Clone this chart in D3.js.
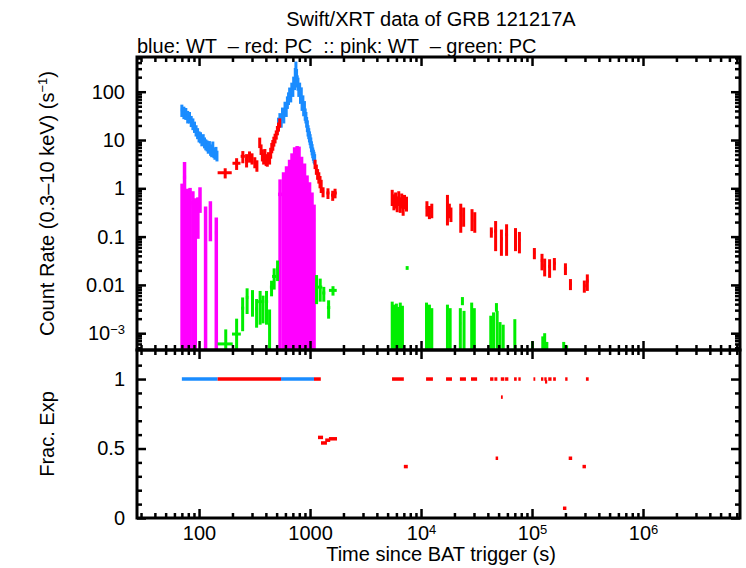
<!DOCTYPE html>
<html>
<head>
<meta charset="utf-8">
<script src="https://cdn.jsdelivr.net/npm/d3@7/dist/d3.min.js"></script>
<style>
  body { margin: 0; background: #fff; }
  svg { display: block; font-family: "Liberation Sans", Arial, Helvetica, sans-serif; }
</style>
</head>
<body>
<svg id="chart" width="746" height="568"></svg>
<script>
'use strict';

// rows: [time (s), half bin width (s), count rate (s^-1), rate error]
var wtRate = [
	[70, 1.5, 42, 12], [73, 1.5, 38, 11], [76, 1.5, 36, 10], [79, 1.5, 31, 9], [82, 1.5, 30, 8],
	[85, 1.5, 25, 6.5], [88, 1.5, 22, 6], [91, 1.5, 19, 5], [94, 1.5, 16, 4.2], [97, 1.5, 14, 3.6],
	[100, 1.5, 12, 3.1], [103, 1.5, 11.5, 3], [106, 1.5, 10, 2.6], [109, 1.5, 10.5, 2.7], [112, 1.5, 9, 2.3],
	[115, 1.5, 8.2, 2.1], [118, 1.5, 7.8, 2], [121, 1.5, 7.0, 1.8], [124, 1.5, 7.6, 1.9], [127, 1.5, 6.4, 1.7],
	[130, 1.5, 6.0, 1.6], [133, 1.5, 7.4, 1.9], [136, 1.5, 5.6, 1.4], [139, 1.5, 5.2, 1.3], [142, 1.5, 5.8, 1.4],
	[145, 1.5, 4.8, 1.2],
	[520, 8, 22, 7], [535, 8, 28, 8], [550, 8, 26, 8], [565, 8, 36, 11], [580, 8, 32, 10],
	[595, 8, 48, 14], [610, 8, 42, 12], [625, 8, 62, 18], [640, 8, 75, 22], [655, 8, 95, 27],
	[670, 8, 85, 25], [685, 8, 120, 34], [700, 8, 110, 32], [712, 6, 160, 45], [724, 6, 150, 42],
	[736, 6, 240, 70], [746, 5, 330, 90], [756, 5, 230, 65], [766, 5, 170, 48], [778, 7, 150, 45],
	[792, 7, 110, 32], [806, 7, 120, 34], [820, 7, 80, 24], [834, 7, 95, 28], [848, 7, 58, 18],
	[862, 7, 65, 19], [876, 7, 45, 14], [890, 7, 50, 14], [904, 7, 35, 10], [918, 7, 30, 8],
	[932, 7, 24, 6], [946, 7, 20, 5.5], [960, 7, 16, 4.2], [974, 7, 14, 3.6], [988, 7, 12, 3.1],
	[1002, 7, 10.5, 2.7], [1016, 7, 9, 2.3], [1030, 7, 7.5, 1.9], [1044, 7, 6.5, 1.7], [1058, 7, 5.6, 1.4],
	[1072, 7, 5.0, 1.3], [1086, 7, 4.5, 1.2], [1100, 7, 4.1, 1.0]
];

var pcRate = [
	[172, 25, 2.1, 0.5], [218, 18, 3.3, 0.9], [248, 11, 4.6, 1.3], [268, 8, 3.9, 1.2], [285, 7, 4.6, 1.2],
	[300, 7, 4.2, 1.1], [318, 8, 3.5, 0.9], [332, 7, 3.0, 0.8], [352, 4, 9.0, 2.2], [362, 4, 6.5, 1.6],
	[372, 4, 5.0, 1.4], [382, 4, 4.2, 1.1], [392, 4, 5.2, 1.3], [402, 4, 4.0, 1.1], [412, 4, 3.8, 1.0],
	[422, 4, 4.4, 1.2], [432, 4, 4.2, 1.1], [442, 4, 5.5, 1.4], [452, 4, 7.0, 1.7], [462, 4, 8.0, 2.0],
	[472, 5, 9.5, 2.2], [484, 5, 11, 2.5], [496, 5, 13, 2.8], [508, 5, 16, 3.5], [520, 5, 19, 4],
	[533, 5, 23, 5],
	[1110, 15, 3.2, 0.7], [1140, 15, 2.5, 0.6], [1170, 15, 2.0, 0.5], [1200, 15, 1.7, 0.45], [1230, 15, 1.4, 0.4],
	[1260, 15, 1.15, 0.35], [1310, 30, 0.85, 0.2], [1450, 45, 0.8, 0.2], [1600, 55, 0.72, 0.17], [1680, 60, 0.8, 0.18],
	[5500, 100, 0.68, 0.25], [5700, 100, 0.55, 0.2], [5900, 100, 0.6, 0.22], [6100, 100, 0.5, 0.18], [6300, 100, 0.65, 0.22],
	[6500, 100, 0.48, 0.17], [6700, 100, 0.58, 0.2], [6900, 100, 0.42, 0.15], [7100, 100, 0.55, 0.18], [7400, 150, 0.5, 0.17],
	[11300, 250, 0.4, 0.14], [11900, 250, 0.33, 0.1], [12500, 300, 0.36, 0.12],
	[17300, 350, 0.45, 0.28], [18000, 300, 0.36, 0.12], [18600, 300, 0.3, 0.1],
	[22800, 400, 0.3, 0.18], [24200, 400, 0.28, 0.12],
	[28800, 500, 0.25, 0.12], [30500, 600, 0.22, 0.1],
	[43000, 1200, 0.125, 0.03], [47000, 1400, 0.13, 0.08], [53000, 1500, 0.09, 0.05], [59000, 1800, 0.11, 0.07],
	[71000, 2000, 0.1, 0.05], [77000, 2000, 0.085, 0.04],
	[105000, 2000, 0.046, 0.012], [123000, 3000, 0.032, 0.012], [130000, 3000, 0.025, 0.01], [144000, 4000, 0.024, 0.01],
	[159000, 4500, 0.028, 0.008],
	[200000, 6000, 0.022, 0.006], [222000, 6000, 0.0105, 0.0027], [296000, 8000, 0.0096, 0.0027], [315000, 9000, 0.012, 0.0045]
];

// pink: WT, green: PC
var wtPink = [
	[70.3, 0.6, 0.6, 0.65], [74, 2.4, 1.7, 1.8], [78.7, 1.2, 0.48, 0.5], [83, 3, 0.5, 0.52], [88, 2, 0.42, 0.45],
	[92.5, 2.5, 0.3, 0.32], [97.6, 2.3, 0.37, 0.28], [102, 2, 0.68, 0.37], [114.5, 3.5, 0.2, 0.22], [126.5, 3.5, 0.31, 0.23],
	[143, 4, 0.12, 0.13],
	[537, 22, 0.75, 0.78], [577, 18, 1.05, 1.1], [614, 20, 1.4, 1.45], [654, 20, 1.9, 2.0], [688, 15, 2.6, 2.7],
	[726, 23, 3.5, 3.6], [765, 15, 3.7, 3.8], [796, 17, 3.6, 3.7], [839, 26, 2.2, 2.3], [892, 28, 1.6, 1.65],
	[940, 20, 0.9, 0.95], [990, 31, 0.65, 0.68], [1042, 22, 0.4, 0.42], [1087, 23, 0.22, 0.24]
];

var pcGreen = [
	[174, 27, 0.0006, 0.0006], [218, 20, 0.00096, 0.00104], [247, 8, 0.0033, 0.0022], [271, 7, 0.0055, 0.003],
	[303, 9, 0.005, 0.0028], [330, 10, 0.0032, 0.0019], [355, 14, 0.0045, 0.003], [377, 8, 0.0038, 0.0022],
	[405, 14, 0.0045, 0.003], [432, 12, 0.0015, 0.0016], [450, 15, 0.009, 0.0032], [475, 20, 0.015, 0.007],
	[510, 15, 0.022, 0.01],
	[1145, 35, 0.01, 0.006], [1235, 55, 0.009, 0.0045], [1330, 40, 0.0068, 0.0023], [1470, 50, 0.0034, 0.0014],
	[1610, 130, 0.0077, 0.0017],
	[7500, 60, 0.0225, 0.002],
	[5500, 100, 0.0022, 0.0023], [5750, 100, 0.0019, 0.002], [6000, 100, 0.002, 0.0021], [6250, 100, 0.0017, 0.0018],
	[6500, 100, 0.0021, 0.0022], [6800, 120, 0.0018, 0.0019],
	[11200, 250, 0.0021, 0.0022], [11900, 250, 0.0019, 0.002], [12500, 250, 0.0016, 0.0017],
	[17300, 300, 0.0019, 0.002], [18300, 300, 0.0016, 0.0017],
	[22600, 400, 0.0016, 0.0017], [23600, 300, 0.0047, 0.0009], [24400, 400, 0.0014, 0.0015],
	[28600, 400, 0.0021, 0.0022], [30200, 400, 0.0016, 0.0017],
	[42500, 600, 0.0011, 0.0012], [45000, 600, 0.0013, 0.0014], [47800, 500, 0.0035, 0.0007], [48500, 500, 0.0014, 0.0015],
	[51500, 800, 0.0008, 0.0009], [55000, 800, 0.0007, 0.0008], [70000, 1000, 0.00095, 0.001],
	[101000, 1500, 0.00034, 0.00034], [125000, 1500, 0.00043, 0.00043], [130000, 1500, 0.0005, 0.0005],
	[136000, 2000, 0.00033, 0.00033], [193000, 3000, 0.00033, 0.00033], [205000, 3000, 0.00028, 0.00028]
];

// fractional exposure: [start (s), end (s), fraction]
var fracWt = [[70, 147, 1], [548, 1085, 1]];
var fracPc = [
	[147, 548, 1], [1085, 1250, 1],
	[1180, 1310, 0.58], [1255, 1420, 0.54], [1370, 1520, 0.56], [1480, 1750, 0.57],
	[5480, 7000, 1], [7000, 7600, 0.37], [11100, 12800, 1], [16800, 19000, 1], [22400, 25400, 1], [28200, 32000, 1],
	[41900, 44900, 1], [45800, 48700, 1], [47000, 49500, 0.43], [52300, 56300, 1], [52500, 54500, 0.87],
	[57200, 61200, 1], [68900, 72800, 1], [75300, 79100, 1],
	[103000, 107000, 1], [120500, 126500, 1], [129000, 135500, 1], [131000, 137000, 0.98], [140000, 150000, 1],
	[155000, 164000, 1], [190000, 204000, 0.07], [199000, 209000, 1], [214000, 230000, 0.43],
	[285000, 306000, 0.37], [306000, 324000, 1]
];

var timeTicks = [100, 1000, 1e4, 1e5, 1e6];
var timeLabels = ['100', '1000', '10^4', '10^5', '10^6'];
var rateTicks = [100, 10, 1, 0.1, 0.01, 0.001];
var rateLabels = ['100', '10', '1', '0.1', '0.01', '10^\u22123'];
var fracTicks = [0, 0.5, 1];
var fracLabels = ['0', '0.5', '1'];

var BLUE = '#1a8cff', RED = '#ff0000', PINK = '#ff00ff', GREEN = '#00ee00';

var xLeft = 137, xRight = 740, yTop = 57, yMid = 350, yBottom = 518;

var x = d3.scaleLog().domain([27.6, 7.48e6]).range([xLeft, xRight]);
var yRate = d3.scaleLog().domain([4.49e-4, 523]).range([yMid, yTop]);
var yFrac = d3.scaleLinear().domain([0, 1.209]).range([yBottom, yMid]);

var svg = d3.select('#chart');

function logMinor(dom) {
	var out = [];
	for (var p = Math.floor(Math.log10(dom[0])); p <= Math.ceil(Math.log10(dom[1])); p++) {
		for (var m = 2; m <= 9; m++) {
			var v = m * Math.pow(10, p);
			if (v > dom[0] && v < dom[1]) out.push(v);
		}
	}
	return out;
}

function setLabel(sel, labels) {
	sel.selectAll('.tick text').each(function (d, i) {
		var parts = labels[i].split('^');
		var t = d3.select(this).text(parts[0]);
		if (parts[1]) t.append('tspan').attr('font-size', 13).attr('dy', '-0.5em').text(parts[1]);
	});
}

// ticks on one side; size > 0 points into the panel
function tickSide(axisFn, scale, vals, size, transform, labels, pad) {
	var ax = axisFn(scale).tickValues(vals).tickSize(-size).tickSizeOuter(0).tickPadding(pad || 0);
	if (!labels) ax.tickFormat('');
	var g = svg.append('g').attr('transform', transform).call(ax);
	g.select('.domain').remove();
	g.attr('font-size', 20).attr('font-family', null);
	g.selectAll('.tick line').attr('stroke', '#000').attr('stroke-width', 2.5);
	g.selectAll('.tick text').attr('fill', '#000');
	if (labels) setLabel(g, labels);
	return g;
}

function panelTicks(yScale, yMajor, yMinor, yLabels, x0, x1, y0, y1, withXLabels) {
	var xMinor = logMinor(x.domain());
	tickSide(d3.axisBottom, x, timeTicks, 9, 'translate(0,' + y1 + ')', withXLabels ? timeLabels : null, 8);
	tickSide(d3.axisBottom, x, xMinor, 5, 'translate(0,' + y1 + ')');
	tickSide(d3.axisTop, x, timeTicks, 9, 'translate(0,' + y0 + ')');
	tickSide(d3.axisTop, x, xMinor, 5, 'translate(0,' + y0 + ')');
	tickSide(d3.axisLeft, yScale, yMajor, 9, 'translate(' + x0 + ',0)', yLabels, 12);
	tickSide(d3.axisLeft, yScale, yMinor, 5, 'translate(' + x0 + ',0)');
	tickSide(d3.axisRight, yScale, yMajor, 9, 'translate(' + x1 + ',0)');
	tickSide(d3.axisRight, yScale, yMinor, 5, 'translate(' + x1 + ',0)');
}

var defs = svg.append('defs');
defs.append('clipPath').attr('id', 'clipTop').append('rect')
	.attr('x', xLeft).attr('y', yTop).attr('width', xRight - xLeft).attr('height', yMid - yTop);
defs.append('clipPath').attr('id', 'clipBot').append('rect')
	.attr('x', xLeft).attr('y', yMid).attr('width', xRight - xLeft).attr('height', yBottom - yMid);

var gTop = svg.append('g').attr('clip-path', 'url(#clipTop)');
var gBot = svg.append('g').attr('clip-path', 'url(#clipBot)');

function errorBars(rows, color, width) {
	var lo = yRate.domain()[0] * 0.5;
	var g = gTop.append('g').attr('stroke', color).attr('stroke-width', width);
	g.selectAll('line.v').data(rows).join('line').attr('class', 'v')
		.attr('x1', function (d) { return x(d[0]); })
		.attr('x2', function (d) { return x(d[0]); })
		.attr('y1', function (d) { return yRate(Math.max(d[2] - d[3], lo)); })
		.attr('y2', function (d) { return yRate(d[2] + d[3]); });
	g.selectAll('line.h').data(rows).join('line').attr('class', 'h')
		.attr('x1', function (d) { return x(d[0] - d[1]); })
		.attr('x2', function (d) { return x(d[0] + d[1]); })
		.attr('y1', function (d) { return yRate(d[2]); })
		.attr('y2', function (d) { return yRate(d[2]); });
}

errorBars(wtRate, BLUE, 3);
errorBars(pcRate, RED, 3);
errorBars(wtPink, PINK, 3.5);
errorBars(pcGreen, GREEN, 3);

function fracBars(rows, color) {
	gBot.append('g').attr('stroke', color).attr('stroke-width', 3.5)
		.selectAll('line').data(rows).join('line')
		.attr('x1', function (d) { return x(d[0]); })
		.attr('x2', function (d) { return x(d[1]); })
		.attr('y1', function (d) { return yFrac(d[2]); })
		.attr('y2', function (d) { return yFrac(d[2]); });
}
fracBars(fracWt, BLUE);
fracBars(fracPc, RED);

var rateMinor = logMinor(yRate.domain());
panelTicks(yRate, rateTicks, rateMinor, rateLabels, xLeft, xRight, yTop, yMid, false);
var fracMinor = d3.range(1, 12).map(function (i) { return i / 10; }).filter(function (v) { return v !== 0.5 && v !== 1; });
panelTicks(yFrac, fracTicks, fracMinor, fracLabels, xLeft, xRight, yMid, yBottom, true);

// frames
svg.append('rect').attr('x', xLeft).attr('y', yTop).attr('width', xRight - xLeft).attr('height', yMid - yTop)
	.attr('fill', 'none').attr('stroke', '#000').attr('stroke-width', 3);
svg.append('rect').attr('x', xLeft).attr('y', yMid).attr('width', xRight - xLeft).attr('height', yBottom - yMid)
	.attr('fill', 'none').attr('stroke', '#000').attr('stroke-width', 3);

// titles
svg.append('text').attr('x', 431).attr('y', 26).attr('text-anchor', 'middle').attr('font-size', 20)
	.text('Swift/XRT data of GRB 121217A');
svg.append('text').attr('x', xLeft).attr('y', 53).attr('font-size', 20).attr('xml:space', 'preserve')
	.text('blue: WT  \u2013 red: PC  :: pink: WT  \u2013 green: PC');

var yl = svg.append('text').attr('transform', 'translate(54,' + ((yTop + yMid) / 2) + ') rotate(-90)')
	.attr('text-anchor', 'middle').attr('font-size', 20).text('Count Rate (0.3\u201310 keV) (s');
yl.append('tspan').attr('font-size', 13).attr('dy', '-0.55em').text('\u22121');
yl.append('tspan').attr('dy', '0.36em').text(')');

svg.append('text').attr('transform', 'translate(54,' + ((yMid + yBottom) / 2) + ') rotate(-90)')
	.attr('text-anchor', 'middle').attr('font-size', 20).text('Frac. Exp');

svg.append('text').attr('x', 441).attr('y', 561).attr('text-anchor', 'middle').attr('font-size', 20)
	.text('Time since BAT trigger (s)');
</script>
</body>
</html>
